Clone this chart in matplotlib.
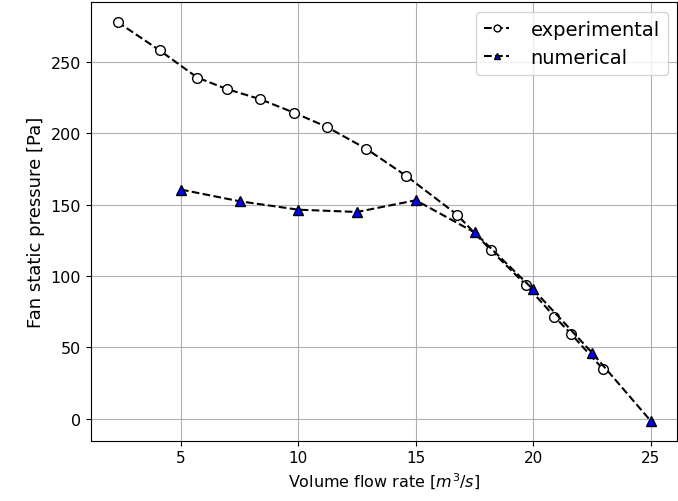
import matplotlib
matplotlib.use('Agg')
import matplotlib.pyplot as plt

# experimental data
exp_q = [2.3, 4.1, 5.7, 6.95, 8.35, 9.8, 11.2, 12.9, 14.6, 16.75, 18.2, 19.7, 20.9, 21.6, 22.95]
exp_p = [278, 258, 239, 231, 224, 214.5, 204.5, 189, 170, 143, 118, 93.5, 71.5, 59.5, 35]

# numerical (CFD) results
num_q = [5, 7.5, 10, 12.5, 15, 17.5, 20, 22.5, 25]
num_p = [160.5, 152.3, 146.4, 144.8, 153, 130.5, 90.5, 46.2, -1.6]

fig = plt.figure(figsize=(6.78, 5.02), dpi=100)
ax = fig.add_axes([0.134, 0.12, 0.865, 0.874])

ax.plot(exp_q, exp_p, 'k--o', mfc='white', mec='black', ms=7, lw=1.5,
        label='experimental')
ax.plot(num_q, num_p, 'k--^', mfc='blue', mec='black', ms=7, lw=1.5,
        label='numerical')

ax.set_xlabel('Volume flow rate [$m^3/s$]', fontsize=11.5)
ax.set_ylabel('Fan static pressure [Pa]', fontsize=13)
ax.grid(True)
ax.tick_params(axis='x', labelsize=11)
ax.tick_params(axis='y', labelsize=11.5)
ax.legend(loc='upper right', fontsize=14, handlelength=1.3,
          handletextpad=1.1, markerscale=0.7)

fig.savefig('out.png', dpi=100)
